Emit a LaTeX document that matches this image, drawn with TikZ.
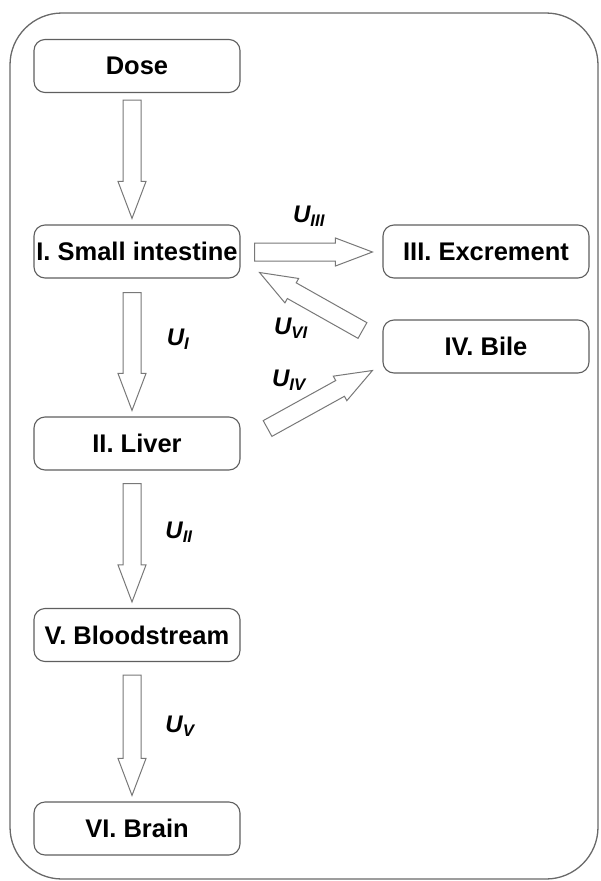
\documentclass[tikz,border=0pt]{standalone}
\usepackage{fontspec}
\setmainfont{Liberation Sans}
\usetikzlibrary{calc}
\definecolor{boxgray}{RGB}{95,95,95}
\definecolor{arrowgray}{RGB}{120,120,120}
\definecolor{framegray}{RGB}{105,105,105}

% hollow block arrow from #1 to #2
\newcommand{\hollowarrow}[2]{%
  \coordinate (ha) at (#1);
  \coordinate (hz) at (#2);
  \coordinate (hb) at ($(hz)!37pt!(ha)$);
  \draw[flowarrow] ($(ha)!9pt!90:(hz)$) -- ($(hb)!9pt!90:(hz)$) -- ($(hb)!14pt!90:(hz)$)
    -- (hz) -- ($(hb)!14pt!-90:(hz)$) -- ($(hb)!9pt!-90:(hz)$) -- ($(ha)!9pt!-90:(hz)$) -- cycle;}

\begin{document}
\begin{tikzpicture}[x=1pt, y=-1pt,
    stage/.style={draw=boxgray, line width=1.1pt, rounded corners=11pt, fill=white,
      minimum width=206pt, minimum height=53pt, inner sep=1pt,
      font=\fontsize{25.5}{29}\selectfont\bfseries},
    flowarrow/.style={draw=arrowgray, line width=1pt, fill=white},
    ulabel/.style={font=\fontsize{24}{28}\selectfont\bfseries\itshape, inner sep=1pt}]
  \useasboundingbox (0,0) rectangle (600,881);
  % Frame
  \draw[framegray, line width=1.3pt, rounded corners=52pt] (10,13) rectangle (598,879);
  % Compartments
  \foreach \nm/\xx/\yy/\txt in {dose/137/66/Dose, si/137/251.5/I. Small intestine,
      exc/486/251.5/III. Excrement, bile/486/346.5/IV. Bile, liver/137/443.5/II. Liver,
      blood/137/635/V. Bloodstream, brain/137/828.5/VI. Brain}
    \node[stage] (\nm) at (\xx,\yy) {\txt};
  % Vertical transfers
  \foreach \a/\b/\g in {dose/si/7, si/liver/14, liver/blood/13, blood/brain/13}
    \hollowarrow{$(\a.south)+(-5,\g)$}{$(\b.north)+(-5,-6)$};
  % Side transfers
  \hollowarrow{$(si.east)+(14,0.5)$}{$(exc.west)+(-10,0.5)$}
  \hollowarrow{$(bile.west)+(-20,-16)$}{$(si.east)+(19,21)$}
  \hollowarrow{$(liver.east)+(27,-15)$}{$(bile.west)+(-10,24)$}
  % Rate labels
  \node[ulabel] (uIII) at (309,216) {U\textsubscript{III}};
  \node[ulabel] (uVI) at (291,328) {U\textsubscript{VI}};
  \node[ulabel] (uIV) at (289,380) {U\textsubscript{IV}};
  \node[ulabel] (uI) at (178,339) {U\textsubscript{I}};
  \node[ulabel] (uII) at (179,532) {U\textsubscript{II}};
  \node[ulabel] (uV) at (180,726) {U\textsubscript{V}};
\end{tikzpicture}
\end{document}
